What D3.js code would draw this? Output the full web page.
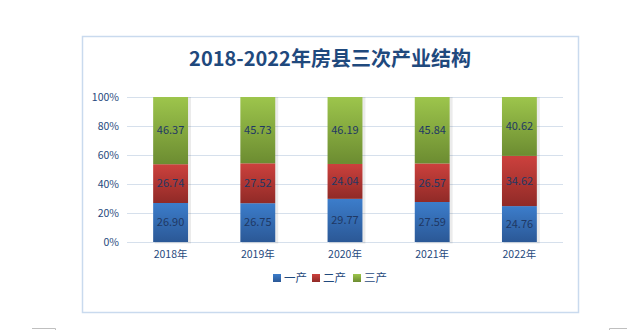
<!DOCTYPE html>
<html><head><meta charset="utf-8">
<script src="https://cdn.jsdelivr.net/npm/d3@7"></script>
<style>body{margin:0;background:#fff;}svg{display:block;}</style>
</head><body>
<svg id="c" width="627" height="330"></svg>
<script>
const categories = ["2018年","2019年","2020年","2021年","2022年"];
const seriesNames = ["一产","二产","三产"];
const primary   = [26.90, 26.75, 29.77, 27.59, 24.76];
const secondary = [26.74, 27.52, 24.04, 26.57, 34.62];
const tertiary  = [46.37, 45.73, 46.19, 45.84, 40.62];
const yTicks = [0, 20, 40, 60, 80, 100];
const title = "2018-2022年房县三次产业结构";

const font = "'Noto Sans CJK SC', 'Noto Sans', sans-serif";
const textColor = "#1F497D";
const svg = d3.select("#c");

// gradients
const defs = svg.append("defs");
const grads = [
  {id:"g0", top:"#3C7DCB", bot:"#2B5896"},
  {id:"g1", top:"#CC413D", bot:"#902A27"},
  {id:"g2", top:"#9DC54C", bot:"#6C8C31"}
];
grads.forEach(g => {
  const lg = defs.append("linearGradient").attr("id", g.id)
    .attr("x1",0).attr("y1",0).attr("x2",0).attr("y2",1);
  lg.append("stop").attr("offset","0%").attr("stop-color", g.top);
  lg.append("stop").attr("offset","100%").attr("stop-color", g.bot);
});

// frame
svg.append("rect").attr("x",82.5).attr("y",36.5).attr("width",496).attr("height",276)
  .attr("fill","#fff").attr("stroke","#C9DAEE").attr("stroke-width",1.5);

// page corner marks
svg.append("path").attr("d","M32,328.5H55.5V332").attr("fill","none").attr("stroke","#BFBFBF");
svg.append("path").attr("d","M627,328.5H609.5V332").attr("fill","none").attr("stroke","#BFBFBF");

// title
svg.append("text").attr("x",330).attr("y",66).attr("text-anchor","middle")
  .attr("font-family",font).attr("font-size",20).attr("font-weight","bold")
  .attr("fill","#1F497D").text(title);

const x = d3.scaleBand().domain(categories).range([127,563]).paddingInner(0.6).paddingOuter(0.3);
const y = d3.scaleLinear().domain([0,100]).range([242,97]);

// grid
svg.append("g").selectAll("line").data(yTicks).join("line")
  .attr("x1",127).attr("x2",563)
  .attr("y1",d=>Math.round(y(d))+0.5).attr("y2",d=>Math.round(y(d))+0.5)
  .attr("stroke","#D6E0EC").attr("stroke-width",1);

// y axis labels
const yAxis = d3.axisLeft(y).tickValues(yTicks).tickFormat(d=>d+"%").tickSize(0).tickPadding(0);
const ga = svg.append("g").attr("transform","translate(119,0)").call(yAxis);
ga.select(".domain").remove();
ga.selectAll("text").attr("font-family",font).attr("font-size",10.5).attr("fill",textColor);

// x axis labels
const xAxis = d3.axisBottom(x).tickSize(0).tickPadding(0);
const gx = svg.append("g").attr("transform","translate(0,251)").call(xAxis);
gx.select(".domain").remove();
gx.selectAll("text").attr("font-family",font).attr("font-size",10.5).attr("fill",textColor);

// stack
const rows = categories.map((c,i)=>({cat:c, s0:primary[i], s1:secondary[i], s2:tertiary[i]}));
const stack = d3.stack().keys(["s0","s1","s2"]).offset(d3.stackOffsetExpand);
const layers = stack(rows);

// shadow
svg.append("g").selectAll("rect").data(rows).join("rect")
  .attr("x",d=>x(d.cat)+1.5).attr("y",y(100)).attr("width",x.bandwidth()+1.5).attr("height",y(0)-y(100)+1.5)
  .attr("fill","#000").attr("opacity",0.08);

layers.forEach((layer,li)=>{
  const g = svg.append("g");
  g.selectAll("rect").data(layer).join("rect")
    .attr("x",d=>x(d.data.cat)).attr("width",x.bandwidth())
    .attr("y",d=>y(d[1]*100)).attr("height",d=>y(d[0]*100)-y(d[1]*100))
    .attr("fill",`url(#g${li})`);
  g.selectAll("text").data(layer).join("text")
    .attr("x",d=>x(d.data.cat)+x.bandwidth()/2)
    .attr("y",d=>(y(d[0]*100)+y(d[1]*100))/2)
    .attr("dy","0.35em").attr("text-anchor","middle")
    .attr("font-family",font).attr("font-size",11).attr("fill","#1F3864")
    .text(d=>d.data[layer.key].toFixed(2));
});

// legend
const legX = [273, 312, 353];
const lg = svg.append("g");
seriesNames.forEach((n,i)=>{
  lg.append("rect").attr("x",legX[i]).attr("y",274).attr("width",8).attr("height",8)
    .attr("fill",`url(#g${i})`);
  lg.append("text").attr("x",legX[i]+11).attr("y",278).attr("dy","0.35em")
    .attr("font-family",font).attr("font-size",11.5).attr("fill",textColor).text(n);
});
</script>
</body></html>
